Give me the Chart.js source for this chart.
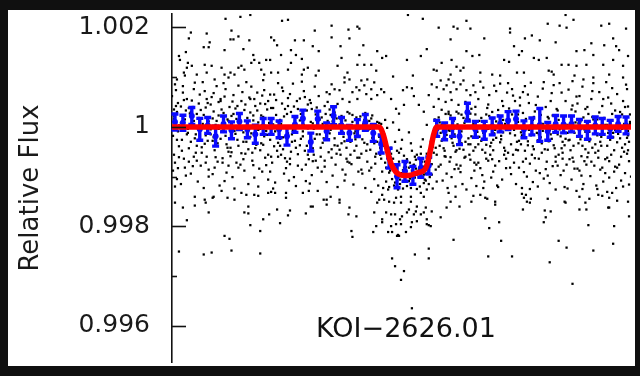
<!DOCTYPE html>
<html lang="en">
<head>
  <meta charset="UTF-8">
  <title>KOI-2626.01 light curve</title>
  <script src="https://cdn.jsdelivr.net/npm/chart.js"></script>
  <style>
    body {
      margin: 0;
      background: #101010;
      width: 640px;
      height: 376px;
      overflow: hidden;
    }
    #frame {
      position: absolute;
      left: 8px;
      top: 10px;
      width: 627px;
      height: 356px;
      background: #fff;
    }
  </style>
</head>
<body>
  <div id="frame"><canvas id="lc"></canvas></div>

  <script>
    // time in minutes from mid-transit, flux offsets in ppm
    const xMin = -238, xMax = 225;
    const yMin = 0.99527, yMax = 1.002271;
    const yTicks = [0.996, 0.997, 0.998, 0.999, 1.000, 1.001, 1.002];
    const yTickLabels = ['0.996', '', '0.998', '', '1', '', '1.002'];
    const yTitle = 'Relative Flux';
    const koiLabel = 'KOI\u22122626.01';
    const koiLabelTime = -2, koiLabelFlux = 0.99592;

    // individual flux measurements, sparse upper part
    const dotsAbove = [
      [-184,2174],[-169,2213],[-159,2252],[-127,2134],[-121,2154],[-94,1937],[-219,1898],[-221,1780],[-203,1878],
      [-178,1937],[-176,1760],[-179,1760],[-171,1819],[-160,1741],[-138,1800],[-135,1741],[-132,1642],[-114,1741],
      [-105,1741],[-206,1603],[-201,1603],[-200,1701],[-185,1544],[-166,1564],[-156,1446],[-155,1347],[-143,1347],
      [-139,1347],[-128,1446],[-118,1544],[-113,1446],[-107,1367],[-96,1623],[-90,1524],[-231,1426],[-230,1347],
      [-224,1505],[-222,1288],[-223,1190],[-226,1092],[-225,1033],[-218,1229],[-205,1249],[-198,1229],[-188,1190],
      [-185,1052],[-181,993],[-179,1092],[-175,1052],[-171,1190],[-168,1229],[-165,1151],[-158,1288],[-150,1288],
      [-148,1151],[-145,1052],[-138,1092],[-131,1092],[-121,1151],[-118,1288],[-107,1052],[-105,1151],[-101,1190],
      [-93,1033],[-90,1131],[-235,856],[-233,954],[-213,1052],[-203,1092],[-195,954],
      [-77,2036],[-77,1800],[-68,1623],[-67,1387],[-60,1957],[-51,2016],[-49,1977],[-59,1780],[-49,1446],[-45,1642],
      [-31,1524],[-26,1387],[-22,1426],[-32,1131],[-51,1249],[-44,1249],[-37,1249],[-61,1092],[-64,993],[-71,1229],
      [0,2252],[15,2174],[31,1996],[46,2016],[50,1977],[59,2134],[63,1977],[43,1760],[19,1564],[13,1426],[-1,1347],
      [5,1033],[-15,1013],[26,1151],[29,1131],[34,1288],[44,1347],[49,1210],[59,1524],[65,1426],[56,1190],[43,1052],
      [53,1131],
      [141,2075],[153,2036],[160,1996],[167,2154],[159,2252],[103,1977],[103,1898],[118,1780],[125,1839],[133,1741],
      [149,1701],[170,1524],[178,1544],[185,1682],[195,2036],[203,2075],[207,1780],[210,1623],[220,1977],[198,1642],
      [213,1544],[77,1780],[107,1623],[112,1446],[115,1524],[97,1347],[102,1308],[127,1387],[132,1347],[140,1387],
      [155,1249],[162,1249],[170,1229],[180,1249],[187,1446],[197,1249],[207,1347],[217,1229],[222,1426],[72,1446],
      [73,1092],[85,1052],[93,1033],[110,1092],[117,1092],[142,1131],[145,1111],[147,1052],[168,1033],[177,954],
      [187,993],[203,1052],[217,993]
    ];

    // dense band around the baseline
    const dotsBand = [
      [-82,698],[-79,659],[-74,757],[-77,856],[-69,738],[-64,895],[-59,954],[-56,698],[-52,797],[-49,738],[-44,836],
      [-42,659],[-37,757],[-34,895],[-31,639],[-27,757],[-24,698],[-41,954],[-47,934],[-37,561],[-51,561],[-59,502],
      [-66,561],[-71,462],[-76,403],[-81,502],
      [-17,561],[-5,738],[-1,797],[4,777],[6,620],[-4,443],[-12,364],[-9,266],[11,443],[16,305],[21,639],
      [24,856],[29,797],[33,934],[36,757],[39,836],[41,954],[43,698],[46,895],[49,757],[53,856],[56,934],[59,738],
      [63,639],[66,836],[68,698],[31,561],[38,502],[44,541],[51,443],[58,502],[64,364],[26,403],[34,344],[41,305],
      [49,305],[54,246],[63,266],[68,403],
      [-238,620],[-237,-180],[-236,350],[-235,-720],[-234,90],[-233,-1050],[-232,480],[-231,-390],[-236,210],[-236,-560],[-234,740],[-232,-90],[-237,-880],[-233,300],[-231,30],[-235,-1200],
      [-229,410],[-228,-260],[-227,820],[-226,-640],[-225,150],[-224,-980],[-223,560],[-222,-40],[-221,-430],[-220,270],[-229,-1150],[-227,690],[-225,-820],[-223,-150],[-221,380],[-226,20],
      [-219,-300],[-218,530],[-217,-790],[-216,120],[-215,890],[-214,-520],[-213,260],[-212,-1100],[-211,-60],[-210,650],[-219,-940],[-217,400],[-215,-230],[-213,-680],[-211,180],[-216,760],
      [-209,340],[-208,-410],[-207,60],[-206,-1230],[-205,720],[-204,-170],[-203,-600],[-202,480],[-201,-860],[-200,190],[-209,-20],[-207,900],[-205,-340],[-203,560],[-201,-1000],[-204,-720],
      [-199,-150],[-198,600],[-197,-950],[-196,310],[-195,-470],[-194,40],[-193,820],[-192,-700],[-191,230],[-190,-1180],[-199,450],[-197,-280],[-195,-820],[-193,120],[-191,-40],[-196,680],
      [-189,520],[-188,-90],[-187,-630],[-186,280],[-185,-1090],[-184,760],[-183,-350],[-182,150],[-181,-780],[-180,400],[-189,-240],[-187,30],[-185,610],[-183,-920],[-181,-500],[-186,880],
      [-179,-420],[-178,220],[-177,-1010],[-176,640],[-175,-80],[-174,370],[-173,-720],[-172,-260],[-171,830],[-170,90],[-179,-590],[-177,510],[-175,-1240],[-173,160],[-171,-380],[-176,-20],
      [-169,260],[-168,-530],[-167,700],[-166,-110],[-165,-880],[-164,450],[-163,-300],[-162,60],[-161,-1150],[-160,590],[-169,-760],[-167,-40],[-165,340],[-163,900],[-161,-450],[-166,-650],
      [-159,-200],[-158,810],[-157,-680],[-156,130],[-155,-1020],[-154,420],[-153,-360],[-152,690],[-151,-60],[-150,-840],[-159,290],[-157,-520],[-155,560],[-153,10],[-151,-1200],[-156,230],
      [-149,470],[-148,-330],[-147,-900],[-146,200],[-145,740],[-144,-620],[-143,-80],[-142,350],[-141,-1060],[-140,80],[-149,-470],[-147,630],[-145,-190],[-143,-770],[-141,520],[-146,940],
      [-139,-260],[-138,380],[-137,-720],[-136,50],[-135,650],[-134,-1120],[-133,240],[-132,-480],[-131,880],[-130,-40],[-139,-900],[-137,160],[-135,-390],[-133,540],[-131,-600],[-136,-1240],
      [-129,140],[-128,-560],[-127,790],[-126,-210],[-125,-940],[-124,360],[-123,-20],[-122,-700],[-121,580],[-120,-1080],[-129,-380],[-127,470],[-125,210],[-123,-830],[-121,-130],[-126,720],
      [-119,-640],[-118,300],[-117,-150],[-116,870],[-115,-1010],[-114,110],[-113,-420],[-112,520],[-111,-780],[-110,20],[-119,660],[-117,-300],[-115,410],[-113,-1190],[-111,-550],[-116,-60],
      [-109,570],[-108,-240],[-107,-860],[-106,160],[-105,720],[-104,-480],[-103,-1090],[-102,330],[-101,-30],[-100,-650],[-109,-370],[-107,910],[-105,40],[-103,-760],[-101,450],[-106,-190],
      [-99,-320],[-98,480],[-97,-970],[-96,70],[-95,-560],[-94,810],[-93,250],[-92,-150],[-91,-820],[-90,620],[-99,-1140],[-97,360],[-95,-40],[-93,-680],[-91,190],[-96,-430],
      [-89,150],[-88,-420],[-87,-900],[-86,60],[-85,-230],[-84,-680],[-83,260],[-82,-1110],[-81,-60],[-80,-510],[-87,190],[-84,-800],
      [-79,-130],[-78,240],[-77,-620],[-76,-980],[-75,80],[-74,-370],[-73,-760],[-72,170],[-71,-1210],[-70,-20],[-77,-450],[-74,290],
      [-69,50],[-68,-560],[-67,220],[-66,-860],[-65,-200],[-64,-1080],[-63,130],[-62,-420],[-61,-700],[-60,-30],[-67,-330],[-63,-960],
      [-59,270],[-58,-300],[-57,-750],[-56,100],[-55,-1160],[-54,-480],[-53,-90],[-52,190],[-51,-620],[-50,-900],[-57,10],[-53,-250],
      [-49,-180],[-48,210],[-47,-540],[-46,-940],[-45,60],[-44,-320],[-43,-1230],[-42,140],[-41,-700],[-40,-60],[-47,-860],[-43,280],
      [-39,120],[-38,-460],[-37,-820],[-36,230],[-35,-150],[-34,-1050],[-33,-600],[-32,40],[-31,-300],[-30,-1180],[-37,170],[-33,-740],
      [-29,-200],[-28,-560],[-27,60],[-26,-900],[-25,-1230],[-24,-380],[-23,-720],[-22,-1100],[-21,-20],[-20,-1260],[-27,-640],[-23,140],
      [-19,-1210],[-18,-880],[-17,-420],[-16,-1050],[-15,-640],[-14,-1180],[-13,-300],[-12,-760],[-11,-990],[-10,-1260],[-17,-540],[-13,-1120],[-15,90],[-11,-820],
      [-9,-700],[-8,-1150],[-7,-930],[-6,-260],[-5,-1240],[-4,-580],[-3,-1020],[-2,-810],[-1,-1190],[-7,-440],[-3,-1100],[-5,-870],[-9,-60],[-1,-650],
      [1,-1090],[2,-720],[3,-1230],[4,-480],[5,-950],[6,-1160],[7,-600],[8,-840],[9,-1250],[3,-330],[7,-1020],[5,-780],[1,-110],[9,-560],
      [11,-860],[12,-1200],[13,-540],[14,-1000],[15,-250],[16,-1130],[17,-700],[18,-940],[19,-1260],[13,-400],[17,-1060],[11,-620],[19,40],[15,-800],
      [21,-1150],[22,-680],[23,-300],[24,-960],[25,-1240],[26,-520],[27,-80],[28,-860],[29,-1100],[23,-620],[27,150],[25,-400],
      [31,190],[32,-380],[33,-760],[34,40],[35,-1080],[36,-220],[37,-590],[38,260],[39,-940],[40,-1230],[33,-120],[37,-480],
      [41,-60],[42,-700],[43,230],[44,-1010],[45,-320],[46,120],[47,-850],[48,-1200],[49,-470],[50,50],[43,-610],[47,-150],
      [51,270],[52,-440],[53,-910],[54,-90],[55,-1150],[56,180],[57,-620],[58,-300],[59,-1260],[60,-20],[53,-780],[57,80],
      [61,-230],[62,150],[63,-660],[64,-1030],[65,20],[66,-480],[67,-880],[68,250],[69,-1190],[70,-100],[63,-350],[67,-720],
      [71,560],[72,-200],[73,-830],[74,180],[75,-460],[76,790],[77,-1100],[78,30],[79,-640],[80,380],[71,-350],[73,910],[75,-970],[77,-80],[79,250],[76,-1230],
      [81,-40],[82,640],[83,-560],[84,-1020],[85,300],[86,-260],[87,830],[88,-780],[89,110],[90,-1180],[81,450],[83,-390],[85,-650],[87,-130],[89,720],[86,-900],
      [91,230],[92,-690],[93,870],[94,-180],[95,-1060],[96,420],[97,-420],[98,60],[99,-830],[100,690],[91,-1210],[93,-310],[95,520],[97,-560],[99,-40],[96,140],
      [101,-520],[102,370],[103,-130],[104,-950],[105,760],[106,10],[107,-720],[108,520],[109,-1150],[110,-300],[101,880],[103,-820],[105,250],[107,-60],[109,-460],[106,630],
      [111,100],[112,-820],[113,590],[114,-350],[115,-1230],[116,280],[117,-60],[118,820],[119,-640],[120,-1000],[111,-470],[113,430],[115,-170],[117,-910],[119,160],[116,700],
      [121,-290],[122,480],[123,-740],[124,890],[125,50],[126,-1110],[127,-450],[128,310],[129,-880],[130,-120],[121,650],[123,-1250],[125,-560],[127,200],[129,-20],[126,-390],
      [131,610],[132,-150],[133,-930],[134,240],[135,-520],[136,770],[137,-1040],[138,-20],[139,400],[140,-700],[131,-1200],[133,130],[135,-330],[137,900],[139,-850],[136,-80],
      [141,-460],[142,170],[143,-1130],[144,520],[145,-240],[146,-790],[147,840],[148,70],[149,-600],[150,360],[141,-980],[143,-60],[145,680],[147,-370],[149,-1260],[146,230],
      [151,330],[152,-560],[153,-50],[154,-970],[155,690],[156,-300],[157,150],[158,-1210],[159,520],[160,-760],[151,-150],[153,880],[155,-430],[157,-880],[159,40],[156,-640],
      [161,-120],[162,750],[163,-650],[164,220],[165,-1060],[166,430],[167,-380],[168,-840],[169,90],[170,610],[161,-1240],[163,-260],[165,350],[167,-700],[169,-20],[166,920],
      [171,470],[172,-330],[173,-880],[174,110],[175,-590],[176,810],[177,-1150],[178,-50],[179,360],[180,-760],[171,-200],[173,620],[175,-980],[177,190],[179,-450],[176,-1250],
      [181,-610],[182,260],[183,-100],[184,-990],[185,560],[186,-420],[187,880],[188,-780],[189,30],[190,-1180],[181,400],[183,-290],[185,-700],[187,150],[189,-520],[186,720],
      [191,150],[192,-480],[193,700],[194,-860],[195,-200],[196,420],[197,-1100],[198,-20],[199,-650],[200,900],[191,-1250],[193,290],[195,-380],[197,560],[199,-930],[196,-100],
      [201,-380],[202,590],[203,-1020],[204,80],[205,-560],[206,780],[207,-210],[208,-900],[209,330],[210,-1230],[201,40],[203,-690],[205,470],[207,-120],[209,-800],[206,260],
      [211,660],[212,-140],[213,-760],[214,300],[215,-1080],[216,-420],[217,520],[218,60],[219,-930],[220,850],[211,-310],[213,190],[215,-600],[217,-1200],[219,400],[216,-40],
      [221,-220],[222,410],[223,-690],[224,100],[225,-1000],[221,760],[222,-470],[223,-1160],[224,250],[222,-80]
    ];

    // the crowded core of the band, close to the baseline
    const dotsCore = [
      [-233,-260],[-236,160],[-231,-610],[-234,420],[-238,-40],[-232,-830],
      [-224,330],[-228,-480],[-222,-120],[-226,540],[-221,-700],[-229,80],
      [-213,-380],[-218,40],[-211,470],[-216,-600],[-214,-150],[-219,300],
      [-206,240],[-202,-280],[-208,-520],[-201,110],[-204,390],[-209,-780],
      [-192,-330],[-197,170],[-194,-610],[-199,-50],[-191,500],[-196,-210],
      [-184,-180],[-188,350],[-182,-420],[-187,-720],[-181,120],[-189,560],
      [-174,-140],[-178,-510],[-172,420],[-176,260],[-171,-820],[-179,-30],
      [-166,-300],[-162,180],[-168,520],[-164,-540],[-161,-90],[-169,20],
      [-154,-430],[-158,-130],[-152,330],[-156,-770],[-151,90],[-159,560],
      [-146,-360],[-142,-160],[-148,230],[-144,460],[-141,-560],[-149,-40],
      [-134,-90],[-138,-600],[-132,110],[-136,380],[-131,-320],[-139,650],
      [-126,-450],[-122,260],[-128,60],[-124,-630],[-121,420],[-129,-240],
      [-114,-280],[-118,-500],[-112,190],[-116,-90],[-111,360],[-119,-750],
      [-106,-90],[-102,-380],[-108,260],[-104,600],[-101,-560],[-109,130],
      [-94,-240],[-98,100],[-92,390],[-96,-690],[-91,-20],[-99,540],
      [-86,-320],[-82,-80],[-88,-600],[-84,420],[-81,120],[-89,-150],
      [-74,-230],[-78,-60],[-72,-540],[-76,110],[-71,-380],[-79,350],
      [-66,-100],[-62,-640],[-68,160],[-64,-290],[-61,300],[-69,-460],
      [-54,-130],[-58,-560],[-52,-380],[-56,240],[-51,-40],[-59,-720],
      [-46,-250],[-42,-480],[-48,-30],[-44,140],[-41,-350],[-49,-620],
      [-34,-330],[-38,-40],[-32,-540],[-36,-220],[-31,100],[-39,-880],
      [-24,-150],[-28,-420],[-22,-820],[-26,-60],[-21,-560],[-29,80],
      [-14,-850],[-18,-600],[-12,-1030],[-16,-760],[-11,-480],[-19,-920],
      [-4,-820],[-8,-1060],[-2,-720],[-6,-940],[-1,-1000],[-9,-520],
      [4,-880],[8,-660],[2,-1040],[6,-760],[9,-960],[1,-820],
      [14,-700],[18,-1080],[12,-860],[16,-960],[11,-1000],[19,-540],
      [24,-750],[28,-420],[22,-1010],[26,-200],[21,-880],[29,-560],
      [34,-280],[38,-600],[32,90],[36,-430],[31,-800],[39,-160],
      [44,-230],[48,-500],[42,-80],[46,-380],[41,260],[49,-760],
      [54,-330],[58,-600],[52,-110],[56,-460],[51,-840],[59,160],
      [64,-190],[68,-410],[62,-560],[66,60],[61,-350],[69,-760],
      [74,-280],[78,-520],[72,120],[76,-120],[71,-720],[79,-360],
      [84,-320],[88,-60],[82,220],[86,-470],[81,-680],[89,-220],
      [94,-250],[98,-480],[92,80],[96,-110],[91,340],[99,-640],
      [104,-350],[108,-170],[102,150],[106,-560],[101,-40],[109,300],
      [114,-110],[118,-480],[112,-280],[116,-700],[111,250],[119,-20],
      [124,-170],[128,-630],[122,-60],[126,140],[121,-370],[129,440],
      [134,-210],[138,-450],[132,-640],[136,60],[131,-270],[139,-20],
      [144,-150],[148,-430],[142,-290],[146,-40],[141,200],[149,-700],
      [154,-190],[158,-370],[152,140],[156,-520],[151,-780],[159,-240],
      [164,-470],[168,-120],[162,-270],[166,-620],[161,40],[169,310],
      [174,-250],[178,-690],[172,70],[176,-380],[171,-840],[179,-100],
      [184,-250],[188,-10],[182,-520],[186,200],[181,-130],[189,-350],
      [194,-300],[198,180],[192,-620],[196,-820],[191,-170],[199,40],
      [204,-260],[208,-470],[202,-120],[206,130],[201,-620],[209,-60],
      [214,-230],[218,-500],[212,-20],[216,250],[211,-820],[219,-350],
      [223,-300],[221,-540],[224,60],[222,-170]
    ];

    // sparse lower part
    const dotsBelow = [
      [-235,-1524],[-227,-1623],[-223,-1878],[-231,-2508],[-215,-1406],[-215,-1583],[-205,-1465],[-204,-1524],[-201,-1721],
      [-197,-1426],[-196,-1406],[-188,-1288],[-182,-1426],[-175,-1465],[-168,-1328],[-163,-1367],[-161,-1603],[-165,-1721],
      [-161,-1741],[-159,-1977],[-155,-1367],[-151,-1387],[-149,-2095],[-146,-1859],[-140,-1760],[-141,-1328],[-138,-1308],
      [-134,-1328],[-132,-1662],[-129,-1937],[-123,-1328],[-123,-1426],[-121,-1780],[-119,-1682],[-185,-2193],[-180,-2252],
      [-178,-2488],[-206,-2567],[-198,-2528],[-149,-2547],[-106,-1328],[-100,-1288],[-103,-1741],[-98,-1603],[-96,-1603],
      [-91,-1288],[-85,-1465],
      [-82,-1465],[-82,-1564],[-78,-1406],[-69,-1465],[-69,-1524],[-59,-1623],[-60,-1760],[-52,-1800],[-57,-2095],[-56,-2213],
      [-34,-1721],[-35,-2115],[-32,-1996],[-31,-1524],[-29,-1465],[-26,-1859],[-26,-1918],[-22,-1721],[-20,-2115],[-17,-1996],
      [-16,-2115],[-17,-1760],[-13,-1760],[-12,-1957],[-11,-2193],[-10,-2174],[-9,-2193],[-8,-1859],[-7,-1957],[-6,-1800],
      [-2,-2115],[-1,-1721],[1,-1662],[3,-2016],[4,-1918],[6,-1760],[9,-1898],[8,-1701],[13,-1760],[16,-1721],[19,-1859],
      [19,-1957],[21,-1977],[23,-1996],[24,-1701],[18,-1623],[9,-1603],[3,-1505],[-7,-1524],[-14,-1524],[-19,-1505],
      [-24,-1465],[-16,-2646],[-13,-2803],[-4,-2901],[-7,-3078],[7,-2567],[21,-2449],[21,-2646],[4,-3649],[33,-1819],
      [39,-1623],[46,-2272],[43,-1505],[48,-1406],[52,-1603],[64,-1505],[66,-1387],[41,-1328],[16,-1406],[13,-1328],
      [3,-1406],[-7,-1406],[-12,-1426],[-26,-1367],[-37,-1308],
      [73,-1367],[78,-1426],[80,-1446],[88,-1505],[88,-1564],[78,-1839],[82,-2036],[92,-1918],[94,-2292],[81,-2606],
      [105,-2606],[115,-1347],[119,-1367],[117,-1426],[120,-1505],[123,-1524],[124,-1446],[116,-1662],[141,-1446],
      [138,-1682],[144,-1701],[139,-1819],[137,-1918],[152,-2292],[160,-2429],[143,-2724],[159,-1524],[158,-1505],
      [170,-1288],[173,-1406],[173,-1662],[180,-1662],[179,-1524],[183,-1446],[182,-1977],[187,-2488],[192,-1367],
      [196,-1387],[201,-1308],[206,-1328],[203,-1426],[203,-1623],[202,-1623],[211,-1485],[222,-1505],[208,-1996],
      [207,-2351],[223,-1800],[166,-3157]
    ];

    // binned averages with error (ppm)
    const binTime = [-235,-227,-218,-210,-202,-194,-186,-178,-170,-162,-154,-146,-138,-130,-122,-114,-106,-98,-91,
      -82,-75,-67,-59,-51,-43,-35,-27,-19,-11,-3,5,13,21,29,37,45,52,60,68,
      77,85,93,101,109,117,125,133,141,149,157,165,173,181,189,196,204,212,220];
    const binPpm = [98,83,220,-49,30,-187,59,-69,108,-49,-148,10,10,-49,-187,49,167,-305,157,
      -89,226,30,-122,-24,89,-122,-344,-629,-993,-895,-974,-826,-777,-30,-89,-10,-187,295,-49,
      -69,10,59,128,157,-49,10,39,-89,59,49,59,-20,-69,30,10,-39,59,30];
    const binErr = [160,150,170,220,160,200,160,170,160,170,180,160,160,170,180,160,170,180,160,
      170,180,160,150,170,160,170,180,200,230,200,180,190,170,160,170,180,170,180,160,
      180,170,160,180,160,170,170,330,180,170,170,160,170,180,170,160,170,150,170];

    // transit model
    const modelTime = [-238,-29,-25,-20,-17,-12,-7,0,10,17,20,23,26,29,225];
    const modelPpm = [0,0,-150,-540,-740,-910,-970,-980,-920,-860,-710,-440,-150,0,0];

    const toFlux = ppm => 1 + ppm / 1e6;
    const asPoints = (ts, ps) => ts.map((t, i) => ({ x: t, y: toFlux(ps[i]) }));
    const allDots = [...dotsAbove, ...dotsBand, ...dotsCore, ...dotsBelow].map(([t, p]) => ({ x: t, y: toFlux(p) }));

    // error bars drawn right after the binned points
    const errorBars = {
      id: 'errorBars',
      afterDatasetDraw(chart, args) {
        if (args.index !== 1) return;
        const { ctx, scales: { x, y } } = chart;
        ctx.save();
        ctx.strokeStyle = '#0a0aff';
        ctx.lineWidth = 3.4;
        binTime.forEach((t, i) => {
          const px = x.getPixelForValue(t);
          const top = y.getPixelForValue(toFlux(binPpm[i] + binErr[i]));
          const bot = y.getPixelForValue(toFlux(binPpm[i] - binErr[i]));
          ctx.beginPath();
          ctx.moveTo(px, top); ctx.lineTo(px, bot);
          ctx.moveTo(px - 3.5, top); ctx.lineTo(px + 3.5, top);
          ctx.moveTo(px - 3.5, bot); ctx.lineTo(px + 3.5, bot);
          ctx.stroke();
        });
        ctx.restore();
      }
    };

    // inward tick marks and the object label
    const axisDecor = {
      id: 'axisDecor',
      afterDraw(chart) {
        const { ctx, chartArea, scales: { x, y } } = chart;
        ctx.save();
        ctx.strokeStyle = '#111';
        ctx.lineWidth = 1.6;
        yTicks.forEach((v, i) => {
          const py = Math.round(y.getPixelForValue(v)) + 0.5;
          const len = yTickLabels[i] ? 14 : 5;
          ctx.beginPath();
          ctx.moveTo(chartArea.left, py);
          ctx.lineTo(chartArea.left + len, py);
          ctx.stroke();
        });
        ctx.fillStyle = '#111';
        ctx.font = '27px "DejaVu Sans"';
        ctx.textAlign = 'center';
        ctx.textBaseline = 'middle';
        ctx.fillText(koiLabel, x.getPixelForValue(koiLabelTime), y.getPixelForValue(koiLabelFlux));
        ctx.restore();
      }
    };

    new Chart(document.getElementById('lc'), {
      type: 'scatter',
      data: {
        datasets: [
          {
            data: asPoints(modelTime, modelPpm),
            showLine: true,
            borderColor: '#ff0000',
            borderWidth: 5.5,
            pointRadius: 0,
            cubicInterpolationMode: 'monotone',
          },
          {
            data: asPoints(binTime, binPpm),
            backgroundColor: '#0a0aff',
            borderColor: '#0a0aff',
            pointRadius: 3,
            borderWidth: 0,
          },
          {
            data: allDots,
            pointStyle: 'rect',
            pointRadius: 1.6,
            backgroundColor: '#000',
            borderWidth: 0,
          },
        ],
      },
      options: {
        responsive: true,
        maintainAspectRatio: false,
        animation: false,
        devicePixelRatio: 1,
        layout: { padding: 0 },
        plugins: {
          legend: { display: false },
          tooltip: { enabled: false },
        },
        scales: {
          x: {
            type: 'linear',
            display: false,
            min: xMin,
            max: xMax,
          },
          y: {
            type: 'linear',
            min: yMin,
            max: yMax,
            afterBuildTicks: scale => { scale.ticks = yTicks.map(v => ({ value: v })); },
            afterFit: scale => {
              scale.width = 164;
              scale.paddingTop = 0;
              scale.paddingBottom = 0;
            },
            grid: { display: false, drawTicks: false },
            border: { display: true, color: '#111', width: 1.6 },
            ticks: {
              padding: 22,
              color: '#1a1a1a',
              font: { family: 'DejaVu Sans', size: 25 },
              callback: (v, i) => yTickLabels[i],
            },
            title: {
              display: true,
              text: yTitle,
              color: '#1a1a1a',
              font: { family: 'DejaVu Sans', size: 26 },
              padding: { top: 8, bottom: 0 },
            },
          },
        },
      },
      plugins: [errorBars, axisDecor],
    });
  </script>
</body>
</html>
